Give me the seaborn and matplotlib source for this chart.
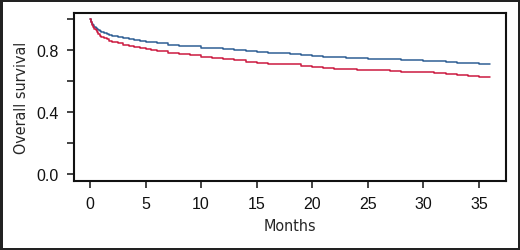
import numpy as np
import pandas as pd
import matplotlib
matplotlib.use("Agg")
import matplotlib.pyplot as plt
import seaborn as sns

# ------------------ DATA ------------------
months = [0, 0.1, 0.2, 0.3, 0.4, 0.5, 0.6, 0.75, 0.9, 1, 1.25, 1.5, 1.75, 2,
          2.5, 3, 3.5, 4, 4.5, 5, 5.5, 6, 7, 8, 9, 10, 11, 12,
          13, 14, 15, 16, 17, 18, 19, 20, 21, 22, 23, 24, 25, 26, 27, 28, 29,
          30, 31, 32, 33, 34, 35, 36]

surv_blue = [1.0, 0.985, 0.972, 0.962, 0.953, 0.945, 0.938, 0.929, 0.921,
             0.915, 0.908, 0.903, 0.898, 0.893, 0.885, 0.878, 0.873, 0.867,
             0.861, 0.856, 0.851, 0.845, 0.836, 0.830, 0.824, 0.817, 0.811,
             0.806, 0.800, 0.793, 0.786, 0.782, 0.779, 0.777, 0.770, 0.764,
             0.759, 0.754, 0.751, 0.749, 0.746, 0.743, 0.740, 0.737, 0.735,
             0.733, 0.730, 0.726, 0.720, 0.716, 0.714, 0.710]

surv_red = [1.0, 0.982, 0.966, 0.952, 0.940, 0.929, 0.919, 0.906, 0.894,
            0.887, 0.878, 0.870, 0.862, 0.855, 0.845, 0.836, 0.828, 0.820,
            0.813, 0.806, 0.800, 0.793, 0.783, 0.775, 0.768, 0.756, 0.748,
            0.742, 0.735, 0.724, 0.716, 0.713, 0.711, 0.710, 0.701, 0.693,
            0.686, 0.679, 0.676, 0.674, 0.672, 0.669, 0.665, 0.660, 0.657,
            0.656, 0.653, 0.647, 0.639, 0.634, 0.630, 0.626]

x_ticks = [0, 5, 10, 15, 20, 25, 30, 35]
y_ticks = [0.0, 0.2, 0.4, 0.6, 0.8, 1.0]
y_labels = ["0.0", "", "0.4", "", "0.8", ""]

df = pd.DataFrame({
    "Months": months * 2,
    "Survival": surv_blue + surv_red,
    "Group": ["A"] * len(months) + ["B"] * len(months),
})

# ------------------ PLOTTING ------------------
sns.set_style("ticks")
plt.rcParams["font.family"] = ["Liberation Sans", "DejaVu Sans"]

fig = plt.figure(figsize=(5.2, 2.51), dpi=100)
ax = fig.add_axes([0.1423, 0.275, 0.8307, 0.669])

sns.lineplot(data=df, x="Months", y="Survival", hue="Group",
             palette={"A": "#2f5f94", "B": "#cc1a40"}, drawstyle="steps-post",
             linewidth=1.1, legend=False, ax=ax)

ax.set_xlim(-1.44, 37.44)
ax.set_ylim(-0.045, 1.04)
ax.set_xticks(x_ticks)
ax.set_yticks(y_ticks)
ax.set_yticklabels(y_labels)

for side in ["top", "right", "left", "bottom"]:
    ax.spines[side].set_visible(True)
    ax.spines[side].set_linewidth(1.5)
    ax.spines[side].set_color("#111111")

ax.tick_params(direction="out", length=5, width=1.1, color="#111111",
               labelsize=11.5, pad=6, labelcolor="#111111")
for lab in ax.get_xticklabels() + ax.get_yticklabels():
    lab.set_family("Liberation Sans")

ax.set_xlabel("Months", fontsize=11.5, family="DejaVu Sans",
              fontstretch="condensed", labelpad=5)
ax.set_ylabel("Overall survival", fontsize=11.5, family="DejaVu Sans",
              fontstretch="condensed", labelpad=5)

fig.patch.set_edgecolor("#222222")
fig.patch.set_linewidth(2.5)

fig.savefig("out.png", dpi=100)
